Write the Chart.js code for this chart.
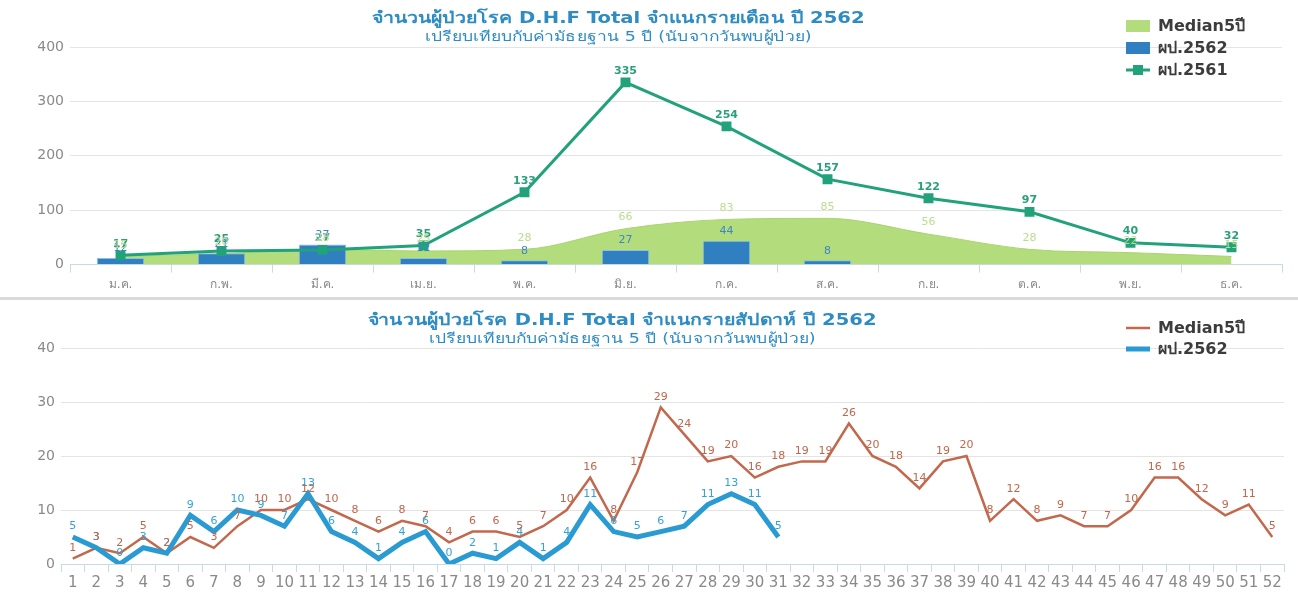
<!DOCTYPE html>
<html>
<head>
<meta charset="utf-8">
<script src="https://cdn.jsdelivr.net/npm/chart.js@4.4.1/dist/chart.umd.min.js"></script>
<style>
html, body { margin: 0; padding: 0; background: #fff; }
#wrap { position: relative; width: 1298px; height: 594px; overflow: hidden; }
#top { position: absolute; left: 0; top: 0; }
#bottom { position: absolute; left: 0; top: 302px; }
#sep { position: absolute; left: 0; top: 297px; width: 1298px; height: 3px; background: #dadada; }
</style>
</head>
<body>
<div id="wrap">
  <canvas id="top" width="1298" height="297"></canvas>
  <div id="sep"></div>
  <canvas id="bottom" width="1298" height="292"></canvas>
</div>
<script>
// ---- data: monthly ----
const months = ['ม.ค.', 'ก.พ.', 'มี.ค.', 'เม.ย.', 'พ.ค.', 'มิ.ย.', 'ก.ค.', 'ส.ค.', 'ก.ย.', 'ต.ค.', 'พ.ย.', 'ธ.ค.'];
const medianMonth = [15, 20, 28, 25, 28, 66, 83, 85, 56, 28, 22, 15];
const cases2562Month = [12, 21, 37, 12, 8, 27, 44, 8, null, null, null, null];
const cases2561Month = [17, 25, 27, 35, 133, 335, 254, 157, 122, 97, 40, 32];
const monthTicks = [0, 100, 200, 300, 400];

// ---- data: weekly ----
const weeks = ['1', '2', '3', '4', '5', '6', '7', '8', '9', '10', '11', '12', '13',
    '14', '15', '16', '17', '18', '19', '20', '21', '22', '23', '24', '25', '26',
    '27', '28', '29', '30', '31', '32', '33', '34', '35', '36', '37', '38', '39',
    '40', '41', '42', '43', '44', '45', '46', '47', '48', '49', '50', '51', '52'];
const medianWeek = [1, 3, 2, 5, 2, 5, 3, 7, 10, 10, 12, 10, 8, 6, 8, 7, 4, 6, 6, 5, 7, 10, 16, 8, 17, 29,
    24, 19, 20, 16, 18, 19, 19, 26, 20, 18, 14, 19, 20, 8, 12, 8, 9, 7, 7, 10, 16, 16, 12, 9, 11, 5];
const cases2562Week = [5, 3, 0, 3, 2, 9, 6, 10, 9, 7, 13, 6, 4, 1, 4, 6, 0, 2, 1, 4, 1, 4, 11, 6, 5, 6,
    7, 11, 13, 11, 5];
const weekTicks = [0, 10, 20, 30, 40];

const FONT = 'Tahoma, "DejaVu Sans", "Noto Sans", sans-serif';

// numbers above each point / bar
const valueLabels = {
    id: 'valueLabels',
    afterDatasetsDraw(chart) {
        const ctx = chart.ctx;
        chart.data.datasets.forEach((ds, i) => {
            const meta = chart.getDatasetMeta(i);
            ctx.save();
            ctx.font = ds.labelFont;
            ctx.fillStyle = ds.labelColor;
            ctx.textAlign = 'center';
            ctx.textBaseline = 'bottom';
            meta.data.forEach((el, j) => {
                const v = ds.data[j];
                if (v === null || v === undefined) return;
                ctx.fillText(v, el.x, el.y - ds.labelGap);
            });
            ctx.restore();
        });
    }
};

// text stretched to a given width, centred on cx
function wideText(ctx, txt, cx, y, w) {
    const m = ctx.measureText(txt).width;
    ctx.save();
    ctx.translate(cx, y);
    ctx.scale(w / m, 1);
    ctx.fillText(txt, 0, 0);
    ctx.restore();
}

// title, subtitle and legend drawn at fixed spots
const header = {
    id: 'header',
    afterDraw(chart, args, opts) {
        const ctx = chart.ctx;
        ctx.save();
        ctx.textAlign = 'center';
        ctx.textBaseline = 'middle';
        ctx.fillStyle = '#2e8cc4';
        ctx.font = 'bold 16px ' + FONT;
        wideText(ctx, opts.title, opts.cx, opts.ty, opts.tw);
        ctx.font = '14px ' + FONT;
        wideText(ctx, opts.subtitle, opts.cx, opts.ty + 18, opts.sw);

        ctx.textAlign = 'left';
        ctx.font = 'bold 16px ' + FONT;
        opts.legend.forEach((it, k) => {
            const y = opts.ly + k * opts.lstep;
            const x = opts.lx;
            if (it.type === 'box') {
                ctx.fillStyle = it.color;
                ctx.fillRect(x, y - 6, 24, 12);
            } else {
                ctx.strokeStyle = it.color;
                ctx.lineWidth = it.width;
                ctx.beginPath();
                ctx.moveTo(x, y);
                ctx.lineTo(x + 24, y);
                ctx.stroke();
                if (it.marker) {
                    ctx.fillStyle = it.color;
                    ctx.fillRect(x + 7, y - 5, 10, 10);
                }
            }
            ctx.fillStyle = '#3c3c3c';
            ctx.fillText(it.text, x + 32, y + 1);
        });
        ctx.restore();
    }
};

Chart.defaults.font.family = FONT;
Chart.defaults.animation = false;

new Chart(document.getElementById('top').getContext('2d'), {
    type: 'bar',
    data: {
        labels: months,
        datasets: [{
            type: 'line',
            label: 'ผป.2561',
            data: cases2561Month,
            borderColor: '#21a27b',
            backgroundColor: '#21a27b',
            borderWidth: 3,
            pointStyle: 'rect',
            pointRadius: 7,
            pointBorderWidth: 0,
            tension: 0,
            order: 1,
            labelColor: '#2aa07a',
            labelFont: 'bold 11px ' + FONT,
            labelGap: 6
        }, {
            label: 'ผป.2562',
            data: cases2562Month,
            backgroundColor: '#2f7fc1',
            borderColor: '#8cc0e6',
            borderWidth: 1,
            barPercentage: 0.47,
            categoryPercentage: 1,
            order: 2,
            labelColor: '#3f86c4',
            labelFont: '11px ' + FONT,
            labelGap: 4
        }, {
            type: 'line',
            label: 'Median5ปี',
            data: medianMonth,
            borderColor: '#a9d46c',
            backgroundColor: '#b3dc7c',
            borderWidth: 1,
            fill: 'origin',
            pointRadius: 0,
            cubicInterpolationMode: 'monotone',
            order: 3,
            labelColor: '#bcdc8e',
            labelFont: '11px ' + FONT,
            labelGap: 6
        }]
    },
    options: {
        responsive: false,
        layout: { padding: { top: 47, right: 16, bottom: 0, left: 0 } },
        plugins: {
            legend: { display: false },
            tooltip: { enabled: false },
            header: {
                title: 'จำนวนผู้ป่วยโรค D.H.F Total จำแนกรายเดือน ปี 2562',
                subtitle: 'เปรียบเทียบกับค่ามัธยฐาน 5 ปี (นับจากวันพบผู้ป่วย)',
                cx: 618, ty: 19, tw: 493, sw: 387,
                lx: 1126, ly: 26, lstep: 22,
                legend: [
                    { type: 'box', color: '#b3dc7c', text: 'Median5ปี' },
                    { type: 'box', color: '#2f7fc1', text: 'ผป.2562' },
                    { type: 'line', color: '#21a27b', width: 3, marker: true, text: 'ผป.2561' }
                ]
            }
        },
        scales: {
            x: {
                offset: true,
                grid: { offset: true, drawOnChartArea: false, tickLength: 8, color: '#c8dbe4' },
                border: { color: '#c8dbe4' },
                ticks: { color: '#8a8a8a', font: { size: 12 }, padding: 5 }
            },
            y: {
                min: 0,
                max: 400,
                afterBuildTicks(s) { s.ticks = monthTicks.map(v => ({ value: v })); },
                afterFit(s) { s.width = 70; },
                ticks: { color: '#8a8a8a', font: { size: 14 }, padding: 6 },
                grid: { color: '#e4e4e4', drawTicks: false },
                border: { display: false }
            }
        }
    },
    plugins: [valueLabels, header]
});

new Chart(document.getElementById('bottom').getContext('2d'), {
    type: 'line',
    data: {
        labels: weeks,
        datasets: [{
            label: 'ผป.2562',
            data: cases2562Week,
            borderColor: '#2a9bd2',
            borderWidth: 5,
            pointRadius: 0,
            tension: 0,
            order: 1,
            labelColor: '#34a2d6',
            labelFont: '11px ' + FONT,
            labelGap: 5
        }, {
            label: 'Median5ปี',
            data: medianWeek,
            borderColor: '#c2684c',
            borderWidth: 2.5,
            pointRadius: 0,
            tension: 0,
            order: 2,
            labelColor: '#c0674c',
            labelFont: '11px ' + FONT,
            labelGap: 5
        }]
    },
    options: {
        responsive: false,
        layout: { padding: { top: 46, right: 14, bottom: 0, left: 0 } },
        plugins: {
            legend: { display: false },
            tooltip: { enabled: false },
            header: {
                title: 'จำนวนผู้ป่วยโรค D.H.F Total จำแนกรายสัปดาห์ ปี 2562',
                subtitle: 'เปรียบเทียบกับค่ามัธยฐาน 5 ปี (นับจากวันพบผู้ป่วย)',
                cx: 622, ty: 19, tw: 509, sw: 387,
                lx: 1126, ly: 26, lstep: 21,
                legend: [
                    { type: 'line', color: '#c2684c', width: 2.5, text: 'Median5ปี' },
                    { type: 'line', color: '#2a9bd2', width: 5, text: 'ผป.2562' }
                ]
            }
        },
        scales: {
            x: {
                offset: true,
                grid: { offset: true, drawOnChartArea: false, tickLength: 8, color: '#c8dbe4' },
                border: { color: '#c8dbe4' },
                ticks: { color: '#8a8a8a', font: { size: 15 }, padding: 2, autoSkip: false, maxRotation: 0 }
            },
            y: {
                min: 0,
                max: 40,
                afterBuildTicks(s) { s.ticks = weekTicks.map(v => ({ value: v })); },
                afterFit(s) { s.width = 61; },
                ticks: { color: '#8a8a8a', font: { size: 14 }, padding: 6 },
                grid: { color: '#e4e4e4', drawTicks: false },
                border: { display: false }
            }
        }
    },
    plugins: [valueLabels, header]
});
</script>
</body>
</html>
